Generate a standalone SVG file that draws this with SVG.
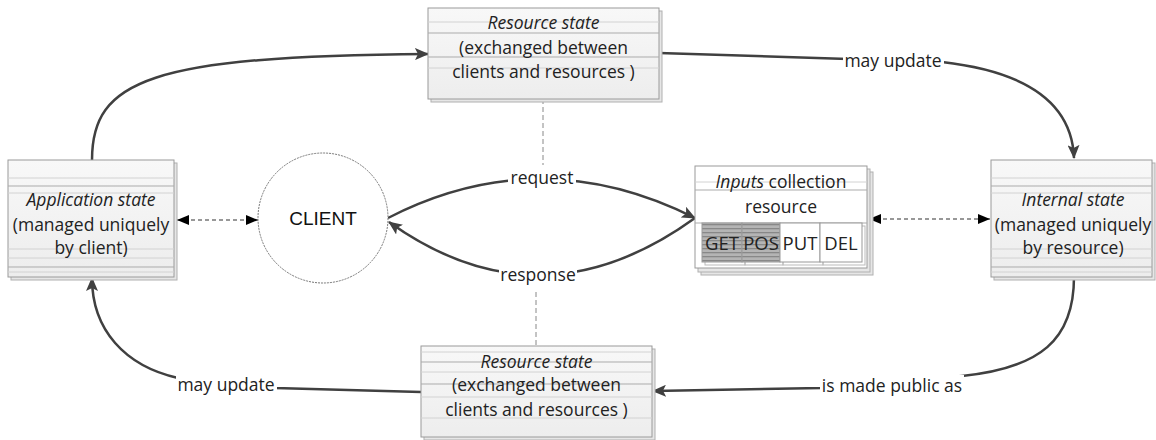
<svg xmlns="http://www.w3.org/2000/svg" width="1156" height="440" viewBox="0 0 1156 440">
<style>
.t{font-family:"Open Sans","Liberation Sans",sans-serif;font-size:17.5px;fill:#222;text-anchor:middle}
.i{font-style:italic}
.box{fill:url(#g);stroke:#9a9a9a;stroke-width:1}
.sh{fill:#e6e6e6;stroke:#b0b0b0;stroke-width:1}
.ln{stroke:#d2d2d2;stroke-width:1}
.lnd{stroke:#ababab;stroke-width:1}
.c{fill:none;stroke:#404040;stroke-width:2.5}
.d{fill:none;stroke:#333;stroke-width:1.2;stroke-dasharray:4,3}
.dv{fill:none;stroke:#888;stroke-width:1;stroke-dasharray:5,3}
.lbg{fill:#fff}
</style>
<defs>
<linearGradient id="g" x1="0" y1="0" x2="0" y2="1">
<stop offset="0" stop-color="#f8f8f8"/>
<stop offset="1" stop-color="#ededed"/>
</linearGradient>
<pattern id="stripe" width="4" height="4" patternUnits="userSpaceOnUse">
<rect width="4" height="4" fill="#b4b4b4"/>
<rect y="0" width="4" height="1.3" fill="#888"/>
</pattern>
<marker id="ah" viewBox="0 0 14 12" refX="13" refY="6" markerWidth="14" markerHeight="12" markerUnits="userSpaceOnUse" orient="auto">
<path d="M0,0 L14,6 L0,12 L3,6 Z" fill="#404040"/>
</marker>
<marker id="dh" viewBox="0 0 12 10" refX="12" refY="5" markerWidth="12" markerHeight="10" markerUnits="userSpaceOnUse" orient="auto">
<path d="M0,0 L12,5 L0,10 Z" fill="#000"/>
</marker>
<marker id="dt" viewBox="0 0 12 10" refX="0" refY="5" markerWidth="12" markerHeight="10" markerUnits="userSpaceOnUse" orient="auto">
<path d="M12,0 L0,5 L12,10 Z" fill="#000"/>
</marker>
</defs>
<rect width="1156" height="440" fill="#fff"/>

<g id="connectors">
<path class="c" d="M92,160 C92,80 150,56 428,54" marker-end="url(#ah)"/>
<path class="c" d="M659,53 L942,62 C1030,72 1072,105 1074,158" marker-end="url(#ah)"/>
<path class="c" d="M1074,277 C1074,340 1040,368 962,376 L822,388 L653,391" marker-end="url(#ah)"/>
<path class="c" d="M421,392 L275,388 L178,378 C125,366 92,330 92,278" marker-end="url(#ah)"/>
<path class="c" d="M388,218 Q540,140 695,218" marker-end="url(#ah)"/>
<path class="c" d="M695,218 Q540,330 389,222" marker-end="url(#ah)"/>
<path class="d" d="M177,220 L258,220" marker-start="url(#dt)" marker-end="url(#dh)"/>
<path class="d" d="M869,219 L990,219" marker-start="url(#dt)" marker-end="url(#dh)"/>
<path class="dv" d="M543,99 L543,165"/>
<path class="dv" d="M536,292 L536,346"/>
<rect class="lbg" x="843" y="50" width="101" height="22"/>
<text class="t" x="893" y="67">may update</text>
<rect class="lbg" x="820" y="375" width="144" height="22"/>
<text class="t" x="892" y="392">is made public as</text>
<rect class="lbg" x="176" y="375" width="101" height="22"/>
<text class="t" x="226" y="391">may update</text>
<rect class="lbg" x="508" y="168" width="68" height="22"/>
<text class="t" x="542" y="184">request</text>
<rect class="lbg" x="499" y="265" width="78" height="22"/>
<text class="t" x="538" y="281">response</text>
</g>

<g id="resource-state-top">
<rect class="sh" x="431" y="11" width="231" height="91"/>
<rect class="box" x="428" y="8" width="231" height="91"/>
<line class="ln" x1="428" y1="22" x2="659" y2="22"/>
<line class="lnd" x1="428" y1="33" x2="659" y2="33"/>
<line class="lnd" x1="428" y1="57" x2="659" y2="57"/>
<line class="ln" x1="428" y1="68" x2="659" y2="68"/>
<text class="t i" x="543.5" y="29">Resource state</text>
<text class="t" x="543.5" y="54">(exchanged between</text>
<text class="t" x="543.5" y="78">clients and resources )</text>
</g>

<g id="resource-state-bottom">
<rect class="sh" x="424" y="349" width="231" height="91"/>
<rect class="box" x="421" y="346" width="231" height="91"/>
<line class="ln" x1="421" y1="352" x2="652" y2="352"/>
<line class="lnd" x1="421" y1="362" x2="652" y2="362"/>
<line class="ln" x1="421" y1="372" x2="652" y2="372"/>
<line class="lnd" x1="421" y1="384" x2="652" y2="384"/>
<line class="ln" x1="421" y1="397" x2="652" y2="397"/>
<line class="ln" x1="421" y1="418" x2="652" y2="418"/>
<text class="t i" x="536.5" y="368">Resource state</text>
<text class="t" x="536.5" y="391">(exchanged between</text>
<text class="t" x="536.5" y="416">clients and resources )</text>
</g>

<g id="application-state">
<rect class="sh" x="11" y="163" width="166" height="117"/>
<rect class="box" x="8" y="160" width="166" height="117"/>
<line class="ln" x1="8" y1="178" x2="174" y2="178"/>
<line class="lnd" x1="8" y1="186" x2="174" y2="186"/>
<line class="ln" x1="8" y1="193" x2="174" y2="193"/>
<line class="ln" x1="8" y1="249" x2="174" y2="249"/>
<line class="ln" x1="8" y1="258" x2="174" y2="258"/>
<line class="lnd" x1="8" y1="267" x2="174" y2="267"/>
<line class="ln" x1="8" y1="272" x2="174" y2="272"/>
<text class="t i" x="91" y="206">Application state</text>
<text class="t" x="91" y="231">(managed uniquely</text>
<text class="t" x="91" y="254">by client)</text>
</g>

<g id="internal-state">
<rect class="sh" x="994" y="163" width="161" height="117"/>
<rect class="box" x="991" y="160" width="161" height="117"/>
<line class="ln" x1="991" y1="178" x2="1152" y2="178"/>
<line class="lnd" x1="991" y1="186" x2="1152" y2="186"/>
<line class="ln" x1="991" y1="193" x2="1152" y2="193"/>
<line class="ln" x1="991" y1="249" x2="1152" y2="249"/>
<line class="ln" x1="991" y1="258" x2="1152" y2="258"/>
<line class="lnd" x1="991" y1="267" x2="1152" y2="267"/>
<line class="ln" x1="991" y1="272" x2="1152" y2="272"/>
<text class="t i" x="1073" y="206">Internal state</text>
<text class="t" x="1073" y="231">(managed uniquely</text>
<text class="t" x="1073" y="254">by resource)</text>
</g>

<g id="client">
<circle cx="323" cy="218" r="65" fill="#fff" stroke="#777" stroke-width="1" stroke-dasharray="2,1"/>
<text x="323" y="225" font-family="Liberation Sans, Arial, sans-serif" font-size="19" fill="#111" text-anchor="middle">CLIENT</text>
</g>

<g id="inputs-resource">
<rect class="sh" x="701" y="172" width="172" height="103"/>
<rect class="sh" x="698" y="169" width="172" height="103"/>
<rect x="695" y="166" width="172" height="102" fill="#fff" stroke="#9a9a9a" stroke-width="1"/>
<line class="ln" x1="695" y1="182" x2="867" y2="182"/>
<line class="lnd" x1="695" y1="190" x2="867" y2="190"/>
<line class="lnd" x1="695" y1="223" x2="867" y2="223"/>
<rect x="705" y="226" width="40" height="39" fill="none" stroke="#bbb"/>
<rect x="745" y="226" width="38" height="39" fill="none" stroke="#bbb"/>
<rect x="783" y="226" width="40" height="39" fill="none" stroke="#bbb"/>
<rect x="823" y="226" width="42" height="39" fill="none" stroke="#bbb"/>
<rect x="702" y="223" width="40" height="39" fill="url(#stripe)" stroke="#999"/>
<rect x="742" y="223" width="38" height="39" fill="url(#stripe)" stroke="#999"/>
<rect x="780" y="223" width="40" height="39" fill="#fff" stroke="#999"/>
<rect x="820" y="223" width="42" height="39" fill="#fff" stroke="#999"/>
<text class="t" x="781" y="188"><tspan font-style="italic">Inputs</tspan> collection</text>
<text class="t" x="781" y="213">resource</text>
<text class="t" x="722" y="250" style="font-size:18.5px">GET</text>
<text class="t" x="761" y="250" style="font-size:18.5px">POS</text>
<text class="t" x="800" y="250" style="font-size:18.5px">PUT</text>
<text class="t" x="841" y="250" style="font-size:18.5px">DEL</text>
</g>
</svg>
